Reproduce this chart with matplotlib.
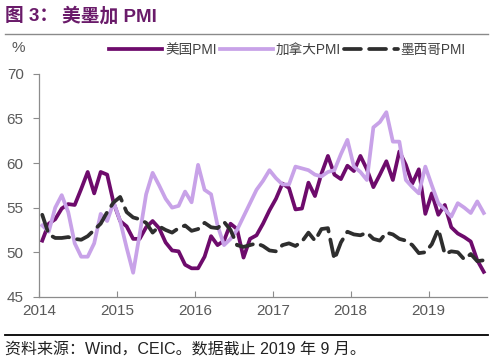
import numpy as np
import matplotlib.pyplot as plt
from matplotlib.lines import Line2D

plt.rcParams['font.family'] = ['Liberation Sans', 'Noto Sans CJK SC', 'DejaVu Sans']

# monthly, Jan 2014 .. Sep 2019
us_pmi = [51.3, 53.2, 53.7, 54.9, 55.4, 55.3, 57.1, 59.0, 56.6, 59.0, 58.7, 55.5,
          53.5, 52.9, 51.5, 51.5, 52.8, 53.5, 52.7, 51.1, 50.2, 50.1, 48.6, 48.2,
          48.2, 49.5, 51.8, 50.8, 51.3, 53.2, 52.6, 49.4, 51.5, 51.9, 53.2, 54.7,
          56.0, 57.7, 57.2, 54.8, 54.9, 57.8, 56.3, 58.8, 60.8, 58.7, 58.2, 59.7,
          59.1, 60.8, 59.3, 57.3, 58.7, 60.2, 58.1, 61.3, 59.8, 57.7, 59.3, 54.3,
          56.6, 54.2, 55.3, 52.8, 52.1, 51.7, 51.2, 49.1, 47.8]
canada_pmi = [53.0, 52.3, 55.0, 56.4, 54.5, 51.0, 49.5, 49.5, 51.0, 54.3, 53.5, 55.6,
              53.5, 50.5, 47.7, 52.0, 56.5, 58.9, 57.5, 56.0, 55.0, 55.2, 56.8, 55.6,
              59.8, 57.0, 56.5, 53.0, 50.8, 51.5, 52.5, 54.0, 55.5, 57.0, 58.0, 59.2,
              58.3, 57.6, 57.6, 59.6, 59.4, 59.2, 58.7, 58.5, 59.0, 59.2, 61.0, 62.6,
              59.6, 59.0, 58.1, 64.0, 64.6, 65.7, 62.4, 62.4, 58.1, 57.3, 56.6, 59.6,
              57.5, 55.5, 54.8, 54.0, 55.5, 55.0, 54.4, 55.7, 54.4]
mexico_pmi = [54.2, 52.0, 51.6, 51.6, 51.7, 51.5, 51.4, 51.8, 52.5, 53.2, 54.5, 55.6,
              56.2, 54.5, 53.9, 53.7, 53.3, 52.2, 52.9, 52.5, 52.2, 52.7, 53.0, 52.4,
              52.6, 53.3, 52.8, 52.7, 53.4, 52.5, 50.8, 50.6, 50.8, 51.0, 50.7, 50.2,
              50.1, 50.8, 51.0, 50.7, 51.2, 52.2, 51.3, 52.6, 52.7, 49.2, 51.1, 52.3,
              52.0, 51.9, 52.2, 51.5, 51.3, 52.2, 52.0, 51.5, 51.3, 50.8, 49.9, 50.0,
              50.9, 52.6, 49.8, 50.1, 50.0, 49.2, 49.8, 49.0, 49.1]
years = ['2014', '2015', '2016', '2017', '2018', '2019']

us_color = '#6e0b6c'
ca_color = '#c8a2e8'
mx_color = '#2e2e2e'
tick_color = '#595959'

months = np.arange(len(us_pmi))

fig = plt.figure(figsize=(5, 3.62), dpi=100)
ax = fig.add_axes([0.078, 0.18, 0.896, 0.616])

ax.plot(months, us_pmi, color=us_color, lw=2.7, solid_joinstyle='round', label='美国PMI')
ax.plot(months, canada_pmi, color=ca_color, lw=2.7, solid_joinstyle='round', label='加拿大PMI')
ax.plot(months, mexico_pmi, color=mx_color, lw=2.7, linestyle=(0, (4.5, 2.2)),
        dash_capstyle='round', label='墨西哥PMI')

ax.set_ylim(45, 70)
ax.set_yticks([45, 50, 55, 60, 65, 70])
ax.set_xlim(-0.5, 68.5)
ax.set_xticks([12 * k - 0.5 for k in range(len(years))])
ax.set_xticklabels(years)

for s in ['top', 'right']:
    ax.spines[s].set_visible(False)
for s in ['left', 'bottom']:
    ax.spines[s].set_color('#8c8c8c')
    ax.spines[s].set_linewidth(0.9)
ax.tick_params(axis='y', direction='out', length=4, color='#8c8c8c', labelsize=11,
               labelcolor=tick_color, pad=7)
ax.tick_params(axis='x', direction='in', length=4, color='#8c8c8c', labelsize=11,
               labelcolor=tick_color, pad=5)

ax.legend(loc='lower left', bbox_to_anchor=(0.145, 1.05), ncol=3, frameon=False,
          fontsize=9.8, handlelength=3.9, handletextpad=0.2, columnspacing=0.25,
          borderaxespad=0, labelcolor='#404040')

fig.text(0.022, 0.855, '%', fontsize=11, color=tick_color)

fig.text(0.01, 0.955, '图 3：', fontsize=13.5, fontweight='bold', color='#6a1b6a',
         va='center')
fig.text(0.125, 0.955, '美墨加 PMI', fontsize=13.5, fontweight='bold', color='#6a1b6a',
         va='center')
fig.add_artist(Line2D([0.01, 0.975], [0.906, 0.906], color='#8a8a8a', lw=1))
fig.add_artist(Line2D([0.01, 0.975], [0.075, 0.075], color='black', lw=1.3))
fig.text(0.01, 0.033, '资料来源：Wind，CEIC。数据截止 2019 年 9 月。', fontsize=11.5,
         color='#222222', va='center')

fig.savefig('out.png', dpi=100)
